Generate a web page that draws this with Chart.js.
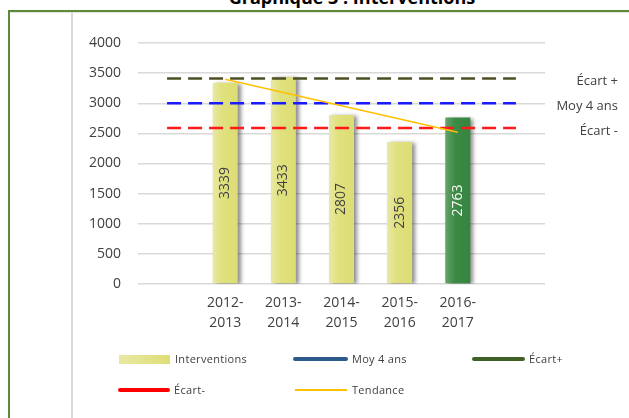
<!DOCTYPE html>
<html lang="fr">
  <head>
    <meta charset="UTF-8" />
    <title>Graphique 3 : Interventions</title>
    <script src="https://cdn.jsdelivr.net/npm/chart.js"></script>
    <style>
      body {
        margin: 0;
        width: 629px;
        height: 418px;
        overflow: hidden;
        background: #fff;
        position: relative;
        font-family: "Open Sans", sans-serif;
      }
      .title {
        position: absolute;
        left: 0;
        width: 704px;
        top: -15px;
        text-align: center;
        font-weight: bold;
        font-size: 18px;
        color: #000;
      }
      .frame {
        position: absolute;
        left: 8px;
        top: 10px;
        width: 700px;
        height: 500px;
        border-left: 2px solid #5b8a38;
        border-top: 2px solid #5b8a38;
        box-shadow: inset 0 2px 1px -1px #e2e2e2;
      }
      .sep {
        position: absolute;
        left: 71px;
        top: 12px;
        width: 2px;
        height: 420px;
        background: #d9d9d9;
      }
      canvas {
        position: absolute;
        left: 0;
        top: 0;
      }
      .legend span {
        position: absolute;
        font-size: 11px;
        color: #404040;
        letter-spacing: 0.3px;
        line-height: 14px;
      }
      .legend i {
        position: absolute;
        display: block;
      }
    </style>
  </head>
  <body>
    <div class="title">Graphique 3 : Interventions</div>
    <div class="frame"></div>
    <div class="sep"></div>
    <canvas id="chart" width="629" height="418"></canvas>
    <div class="legend">
      <i style="left:119px;top:355px;width:51px;height:9px;background:linear-gradient(90deg,#e8e8a4,#dede76)"></i>
      <span style="left:175px;top:352px">Interventions</span>
      <i style="left:293px;top:357px;width:55px;height:4px;border-radius:2px;background:#2d5a8e"></i>
      <span style="left:352px;top:352px">Moy 4 ans</span>
      <i style="left:472px;top:357px;width:53px;height:4px;border-radius:2px;background:#3f6128"></i>
      <span style="left:529px;top:352px">Écart+</span>
      <i style="left:118px;top:388px;width:52px;height:4px;border-radius:2px;background:#ff0000"></i>
      <span style="left:174px;top:383px">Écart-</span>
      <i style="left:295px;top:389px;width:52px;height:2px;background:#ffc000"></i>
      <span style="left:352px;top:383px">Tendance</span>
    </div>
    <script>
      const categories = [
        "",
        ["2012-", "2013"],
        ["2013-", "2014"],
        ["2014-", "2015"],
        ["2015-", "2016"],
        ["2016-", "2017"],
        "",
      ];
      const interventions = [null, 3339, 3433, 2807, 2356, 2763, null];
      const moy4ans = [3000, 3000, 3000, 3000, 3000, 3000, 3000];
      const ecartPlus = [3410, 3410, 3410, 3410, 3410, 3410, 3410];
      const ecartMoins = [2590, 2590, 2590, 2590, 2590, 2590, 2590];
      const tendance = [null, 3400, 3180, 2960, 2740, 2520, null];
      const yTicks = [0, 500, 1000, 1500, 2000, 2500, 3000, 3500, 4000];
      const sideLabels = [
        { text: "Écart +", value: 3410 },
        { text: "Moy 4 ans", value: 3000 },
        { text: "Écart -", value: 2590 },
      ];

      function barFill(ctx) {
        const chart = ctx.chart;
        const green = ctx.dataIndex === 5;
        if (!chart.chartArea) return green ? "#3a8a42" : "#dfdf7a";
        const x = chart.scales.x.getPixelForValue(ctx.dataIndex);
        const g = chart.ctx.createLinearGradient(x - 13, 0, x + 13, 0);
        if (green) {
          g.addColorStop(0, "#68a46c");
          g.addColorStop(0.4, "#3b8a44");
          g.addColorStop(1, "#358540");
        } else {
          g.addColorStop(0, "#e9e9a6");
          g.addColorStop(0.4, "#e0e07e");
          g.addColorStop(1, "#dddd74");
        }
        return g;
      }

      const barShadow = {
        id: "barShadow",
        beforeDatasetDraw(chart, args) {
          if (args.index !== 0) return;
          const c = chart.ctx;
          c.save();
          c.shadowColor = "rgba(0,0,0,0.45)";
          c.shadowOffsetX = 3;
          c.shadowOffsetY = 1;
          c.shadowBlur = 4;
        },
        afterDatasetDraw(chart, args) {
          if (args.index !== 0) return;
          chart.ctx.restore();
        },
      };

      const textPlugin = {
        id: "texts",
        afterDatasetsDraw(chart) {
          const c = chart.ctx;
          const meta = chart.getDatasetMeta(0);
          c.save();
          c.font = "14px 'Open Sans'";
          c.textAlign = "center";
          c.textBaseline = "middle";
          meta.data.forEach((bar, i) => {
            if (interventions[i] == null) return;
            c.save();
            c.translate(bar.x, (bar.y + bar.base) / 2);
            c.rotate(-Math.PI / 2);
            c.fillStyle = i === 5 ? "#ffffff" : "#404040";
            c.fillText(String(interventions[i]), 0, 0);
            c.restore();
          });
          c.font = "13px 'Open Sans'";
          c.textAlign = "right";
          c.fillStyle = "#404040";
          sideLabels.forEach((l) => {
            c.fillText(l.text, 618, chart.scales.y.getPixelForValue(l.value) + 3);
          });
          c.restore();
        },
      };

      new Chart(document.getElementById("chart"), {
        type: "bar",
        data: {
          labels: categories,
          datasets: [
            {
              label: "Interventions",
              data: interventions,
              backgroundColor: barFill,
              barPercentage: 0.43,
              categoryPercentage: 1,
              order: 10,
            },
            {
              type: "line",
              label: "Moy 4 ans",
              data: moy4ans,
              borderColor: "#1a1aff",
              borderWidth: 2.5,
              borderDash: [14, 7],
              pointRadius: 0,
              order: 3,
            },
            {
              type: "line",
              label: "Écart+",
              data: ecartPlus,
              borderColor: "#4d4f24",
              borderWidth: 2.5,
              borderDash: [14, 7],
              pointRadius: 0,
              order: 2,
            },
            {
              type: "line",
              label: "Écart-",
              data: ecartMoins,
              borderColor: "#ff1a1a",
              borderWidth: 2.5,
              borderDash: [14, 7],
              pointRadius: 0,
              order: 4,
            },
            {
              type: "line",
              label: "Tendance",
              data: tendance,
              borderColor: "#ffc000",
              borderWidth: 1.5,
              pointRadius: 0,
              order: 1,
            },
          ],
        },
        options: {
          responsive: false,
          animation: false,
          layout: { padding: { left: 0, right: 84, top: 43, bottom: 0 } },
          plugins: {
            legend: { display: false },
            tooltip: { enabled: false },
          },
          scales: {
            x: {
              grid: { display: false, drawTicks: false },
              border: { display: false },
              ticks: {
                color: "#404040",
                font: { family: "Open Sans", size: 14, lineHeight: 1.45 },
                padding: 9,
                maxRotation: 0,
                autoSkip: false,
              },
              afterFit(scale) {
                scale.height = 134;
              },
            },
            y: {
              min: 0,
              max: 4000,
              afterBuildTicks(scale) {
                scale.ticks = yTicks.map((v) => ({ value: v }));
              },
              grid: { color: "#d9d9d9", lineWidth: 1.5, drawTicks: false },
              border: { display: false },
              ticks: {
                color: "#404040",
                font: { family: "Open Sans", size: 14 },
                padding: 17,
                callback: (v) => String(v),
              },
              afterFit(scale) {
                scale.width = 138;
              },
            },
          },
        },
        plugins: [barShadow, textPlugin],
      });
    </script>
  </body>
</html>
